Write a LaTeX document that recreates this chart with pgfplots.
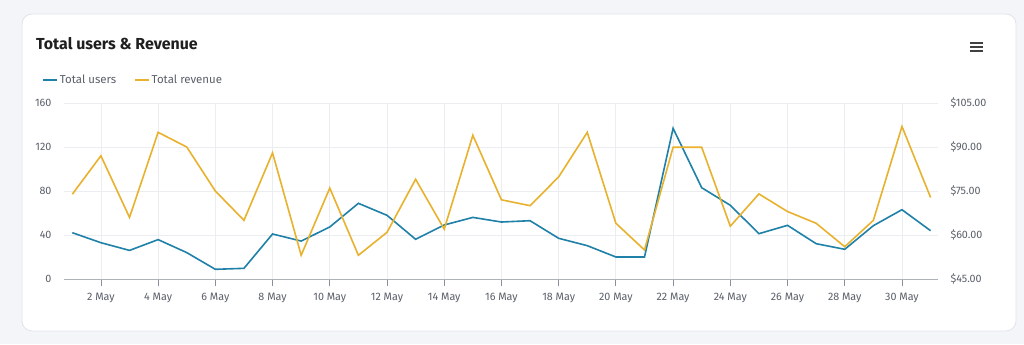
\documentclass[border=0pt]{standalone}
\usepackage{pgfplots}
\pgfplotsset{compat=1.18}
\usepackage{fontspec}
\setmainfont{Fira Sans}
\definecolor{ublue}{HTML}{1F81A8}
\definecolor{rorange}{HTML}{E8B22E}
\definecolor{gridgray}{HTML}{ECEDF1}
\definecolor{axgray}{HTML}{8A8F99}
\definecolor{txtgray}{HTML}{5A5F69}
\definecolor{bggray}{HTML}{F4F5F9}
\definecolor{cardline}{HTML}{E1E4EA}
\pgfplotstableread{
d users revenue
1 42.1 73.9
2 33 87.0
3 26 66.0
4 35.8 95.0
5 24 90.0
6 8.8 75.0
7 9.7 65.0
8 40.9 88.0
9 34.5 53.1
10 47.3 76.0
11 68.8 53.1
12 57.9 60.9
13 36.1 79.0
14 49.1 62.0
15 56 94.0
16 51.8 72.0
17 53 70.0
18 37 79.8
19 30.3 95.0
20 20 64.0
21 20 54.9
22 137 89.9
23 83 89.9
24 67 63.0
25 41.2 74.0
26 48.8 68.0
27 32.1 64.0
28 27 56.0
29 48.5 65.0
30 63 97.0
31 43.9 72.8
}\datatable
\begin{document}
\begin{tikzpicture}[x=1bp,y=1bp]
\fill[bggray] (0,0) rectangle (1024,344);
\useasboundingbox (0,0) rectangle (1024,344);
\filldraw[fill=white,draw=cardline,line width=0.8bp,rounded corners=10bp] (22,13) rectangle (1016,330);
\node[anchor=base west,font=\fontsize{16}{19}\selectfont\bfseries,text=black!88,inner sep=0] at (36,295) {Total users \& Revenue};
\foreach \yy in {301,297,293} {\draw[black!75,line width=2bp] (970,\yy) -- (983,\yy);}
\begin{axis}[
  at={(64bp,65bp)}, anchor=south west,
  scale only axis, width=874bp, height=176bp,
  xmin=0.71, xmax=31.26, ymin=0, ymax=160,
  axis x line*=bottom, axis y line*=left,
  x axis line style={draw=axgray!70,line width=0.8bp,-},
  y axis line style={draw=none},
  xtick={2,4,...,30},
  xticklabels={2 May,4 May,6 May,8 May,10 May,12 May,14 May,16 May,18 May,20 May,22 May,24 May,26 May,28 May,30 May},
  ytick={0,40,...,160},
  tick align=outside, major tick length=7bp,
  xtick style={draw=axgray,line width=0.8bp},
  ytick style={draw=none},
  grid=major, grid style={draw=gridgray,line width=0.8bp},
  tick label style={font=\fontsize{10.8}{12}\selectfont,text=txtgray},
  /pgf/number format/assume math mode=true,
  xticklabel style={yshift=-4bp},
  yticklabel style={xshift=-2bp},
  legend style={at={(-0.025,1.13)},anchor=west,draw=none,fill=none,inner sep=0pt,
    font=\fontsize{11.5}{13}\selectfont,text=txtgray,legend columns=2,
    /tikz/every even column/.append style={column sep=16bp}},
  legend image code/.code={\draw[#1,line width=1.5bp] (0bp,0bp) -- (14bp,0bp);},
]
\addlegendimage{ublue}
\addlegendentry{Total users}
\addlegendimage{rorange}
\addlegendentry{Total revenue}
\addplot[ublue,line width=1.6bp] table[x=d,y=users]{\datatable};
\end{axis}
\begin{axis}[
  at={(64bp,65bp)}, anchor=south west,
  scale only axis, width=874bp, height=176bp,
  xmin=0.71, xmax=31.26, ymin=45, ymax=105,
  axis x line=none, axis y line*=right,
  y axis line style={draw=none},
  ytick={45,60,...,105},
  ytick style={draw=none},
  yticklabel={\$\pgfmathprintnumber[fixed,fixed zerofill,precision=2]{\tick}},
  tick label style={font=\fontsize{10.8}{12}\selectfont,text=txtgray},
  /pgf/number format/assume math mode=true,
  yticklabel style={xshift=9bp},
]
\addplot[rorange,line width=1.6bp] table[x=d,y=revenue]{\datatable};
\end{axis}
\end{tikzpicture}
\end{document}
